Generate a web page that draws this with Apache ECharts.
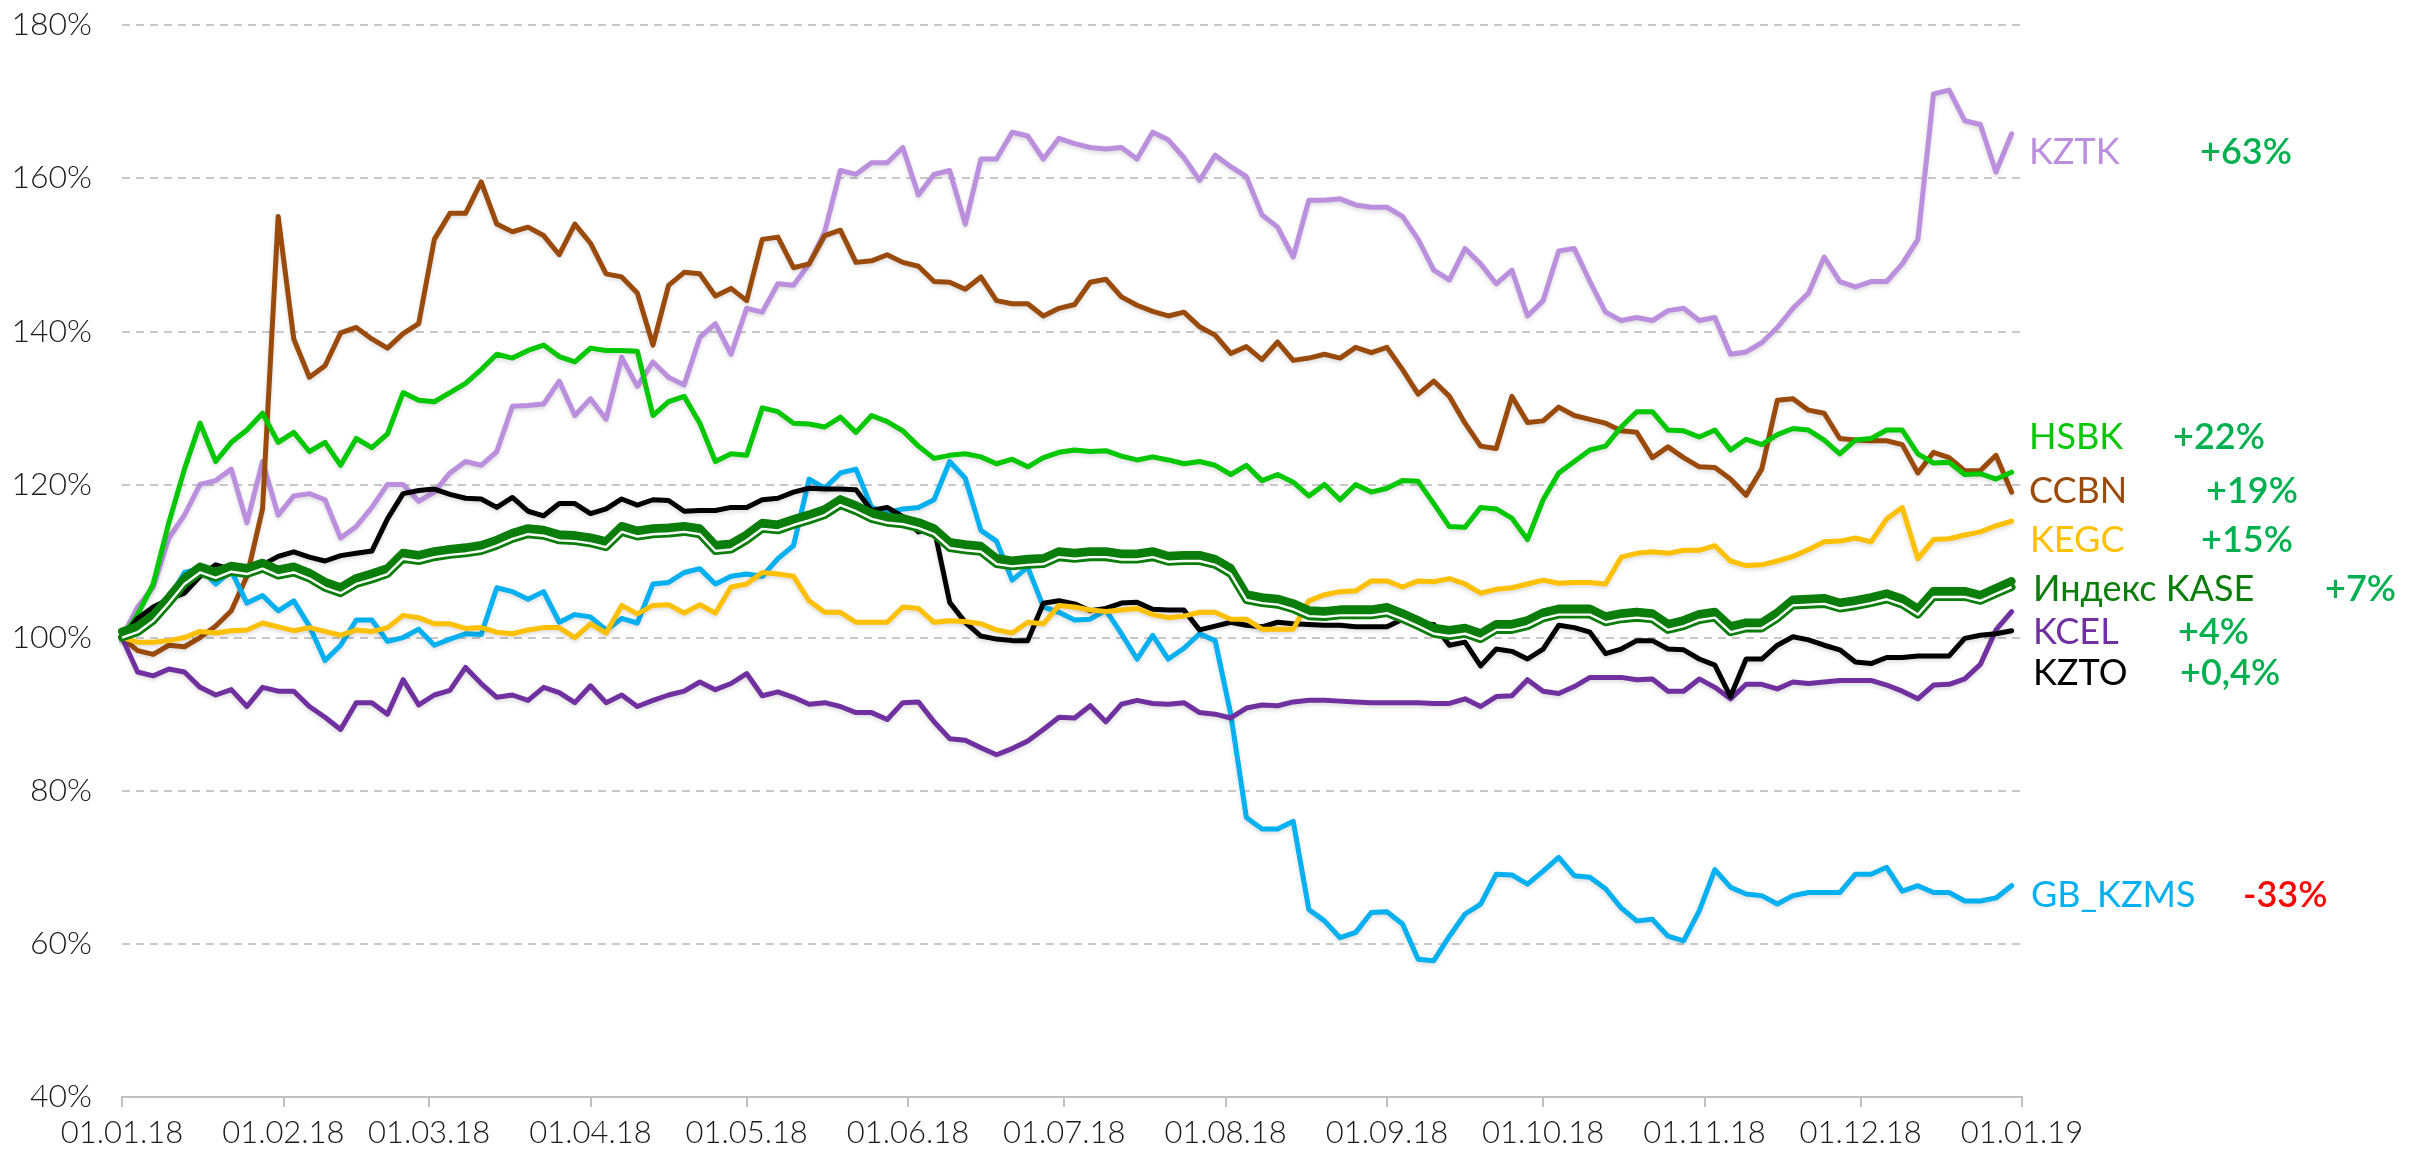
<!DOCTYPE html>
<html>
<head>
<meta charset="utf-8">
<title>KASE 2018</title>
<script src="https://cdn.jsdelivr.net/npm/echarts@6/dist/echarts.min.js"></script>
<style>
  html, body { margin: 0; padding: 0; background: #fff; }
  #chart { width: 2420px; height: 1155px; }
</style>
</head>
<body>
<div id="chart"></div>
<script>
// sample dates, 2018 (every 3rd calendar day)
var dates = [
  '01-01','01-04','01-07','01-10','01-13','01-16','01-19','01-22','01-25','01-28','01-31',
  '02-03','02-06','02-09','02-12','02-15','02-18','02-21','02-24','02-27',
  '03-02','03-05','03-08','03-11','03-14','03-17','03-20','03-23','03-26','03-29',
  '04-01','04-04','04-07','04-10','04-13','04-16','04-19','04-22','04-25','04-28',
  '05-01','05-04','05-07','05-10','05-13','05-16','05-19','05-22','05-25','05-28','05-31',
  '06-03','06-06','06-09','06-12','06-15','06-18','06-21','06-24','06-27','06-30',
  '07-03','07-06','07-09','07-12','07-15','07-18','07-21','07-24','07-27','07-30',
  '08-02','08-05','08-08','08-11','08-14','08-17','08-20','08-23','08-26','08-29',
  '09-01','09-04','09-07','09-10','09-13','09-16','09-19','09-22','09-25','09-28',
  '10-01','10-04','10-07','10-10','10-13','10-16','10-19','10-22','10-25','10-28','10-31',
  '11-03','11-06','11-09','11-12','11-15','11-18','11-21','11-24','11-27','11-30',
  '12-03','12-06','12-09','12-12','12-15','12-18','12-21','12-24','12-27','12-30'
];

var tickDates = ['2018-01-01','2018-02-01','2018-03-01','2018-04-01','2018-05-01','2018-06-01','2018-07-01',
  '2018-08-01','2018-09-01','2018-10-01','2018-11-01','2018-12-01','2019-01-01'];
var tickLabels = ['01.01.18','01.02.18','01.03.18','01.04.18','01.05.18','01.06.18','01.07.18',
  '01.08.18','01.09.18','01.10.18','01.11.18','01.12.18','01.01.19'];

// values, % of 01.01.18
var kztk = [
  100,104,106.6,113,116,120,120.5,122,115,123,116,
  118.5,118.8,118,113,114.5,117,120,120,117.8,
  119,121.5,123,122.5,124.3,130.2,130.3,130.5,133.5,129,
  131.2,128.5,136.6,132.8,136,134,133,139.2,141,137,
  143,142.5,146.2,146,148.8,153,161,160.5,162,162,164,
  157.8,160.5,161,154,162.5,162.5,166,165.5,162.5,165.2,
  164.5,164,163.8,164,162.5,166,165,162.7,159.7,163,
  161.5,160.2,155.2,153.6,149.7,157.1,157.1,157.3,156.5,156.2,
  156.2,155,152,148,146.7,150.8,148.8,146.2,148,142,
  144,150.5,150.8,146.5,142.5,141.4,141.8,141.4,142.7,143,141.4,
  141.8,137,137.3,138.5,140.5,143,145,149.7,146.5,145.8,
  146.5,146.5,148.8,152,171,171.5,167.5,167,160.8,165.8
];
var ccbn = [
  100,98.3,97.8,99,98.8,100,101.5,103.5,108,116.8,155,
  139,134,135.5,139.8,140.5,139,137.8,139.7,141,
  152,155.4,155.4,159.5,154,153,153.6,152.5,150,154,
  151.5,147.5,147.1,145,138.2,146,147.7,147.5,144.6,145.6,
  144,152,152.3,148.3,148.8,152.5,153.2,149,149.2,150,149,
  148.5,146.5,146.4,145.5,147.1,144,143.6,143.6,142,143,
  143.5,146.4,146.8,144.5,143.4,142.6,142,142.5,140.6,139.5,
  137.1,138,136.3,138.6,136.2,136.5,137,136.5,137.9,137.2,
  137.9,135,131.8,133.5,131.5,128,125,124.7,131.5,128.1,
  128.3,130.1,129,128.5,128,127,126.8,123.5,124.9,123.5,122.3,
  122.2,120.7,118.6,122,131,131.2,129.7,129.3,126,125.8,
  125.7,125.7,125.2,121.5,124.2,123.5,121.8,121.8,123.8,119
];
var hsbk = [
  100,103,107,115,122,128,123,125.5,127.1,129.3,125.5,
  126.8,124.3,125.5,122.5,126,124.8,126.6,132,131,
  130.8,132,133.2,135,137,136.5,137.5,138.2,136.7,136,
  137.8,137.5,137.5,137.4,129,130.8,131.5,128,123,124,
  123.8,130,129.5,128,127.9,127.5,128.8,126.8,129,128.2,127,
  125,123.4,123.8,124,123.6,122.7,123.3,122.3,123.5,124.2,
  124.5,124.3,124.4,123.7,123.2,123.6,123.2,122.7,123,122.5,
  121.3,122.5,120.5,121.3,120.3,118.5,120,118,120,119,
  119.5,120.5,120.4,117.5,114.5,114.4,117,116.8,115.6,112.8,
  118,121.5,123,124.5,125,127.5,129.5,129.5,127.1,127,126.2,
  127.1,124.5,125.9,125.2,126.5,127.3,127.1,125.8,124,125.8,
  126,127.1,127.1,124,122.8,122.9,121.3,121.4,120.7,121.6
];
var kegc = [
  100,99.4,99.4,99.6,100,100.8,100.6,100.9,101,101.9,101.4,
  100.9,101.3,100.8,100.3,101,100.8,101.3,102.9,102.6,
  101.8,101.8,101.2,101.3,100.7,100.5,101,101.3,101.3,100,
  101.8,100.6,104.2,103.1,104.2,104.3,103.2,104.3,103.2,106.6,
  107,108.5,108.3,108,104.8,103.3,103.3,102,102,102,104,
  103.8,102,102.2,102.1,101.8,101,100.6,102,101.8,104.2,
  104,103.6,103.4,103.6,103.8,103,102.6,102.8,103.3,103.3,
  102.4,102.4,101.1,101.1,101.1,104.8,105.6,106,106.1,107.4,
  107.4,106.6,107.4,107.3,107.7,107,105.8,106.3,106.5,107,
  107.5,107.1,107.2,107.2,107,110.5,111,111.2,111,111.4,111.4,
  112,110,109.4,109.5,110,110.6,111.5,112.5,112.6,113,
  112.5,115.5,117,110.3,112.8,112.9,113.4,113.8,114.6,115.2
];
var kase = [
  100,100.7,102.2,104.5,107,108.5,107.8,108.6,108.3,109,108.1,
  108.5,107.7,106.5,105.8,107,107.6,108.3,110.3,110,
  110.5,110.8,111,111.3,112,112.9,113.5,113.3,112.7,112.6,
  112.3,111.8,113.8,113.2,113.5,113.6,113.8,113.5,111.3,111.5,
  112.7,114.2,114,114.7,115.3,116,117.3,116.5,115.5,115,114.8,
  114.3,113.5,111.7,111.4,111.2,109.6,109.3,109.5,109.6,110.5,
  110.3,110.5,110.5,110.2,110.2,110.5,109.9,110,110,109.5,
  108.3,104.9,104.5,104.3,103.7,102.8,102.7,102.9,102.9,102.9,
  103.2,102.4,101.5,100.5,100.2,100.5,99.8,101,101,101.5,
  102.5,103,103,103,102,102.4,102.6,102.4,101,101.5,102.3,
  102.6,100.7,101.2,101.2,102.5,104.2,104.3,104.4,103.8,104.1,
  104.5,105,104.3,103,105.3,105.3,105.3,104.8,105.7,106.6
];
var kcel = [
  100,95.5,95,95.9,95.5,93.5,92.5,93.2,91,93.5,93,
  93,91,89.6,88,91.5,91.5,90,94.5,91.2,
  92.5,93.1,96.1,94,92.2,92.5,91.8,93.5,92.8,91.5,
  93.7,91.5,92.5,91,91.8,92.5,93,94.2,93.2,94,
  95.3,92.4,92.9,92.2,91.3,91.5,91,90.2,90.2,89.3,91.5,
  91.6,89,86.8,86.6,85.6,84.7,85.5,86.5,88,89.6,
  89.5,91.1,89,91.3,91.8,91.4,91.3,91.5,90.2,90,
  89.5,90.8,91.2,91.1,91.6,91.8,91.8,91.7,91.6,91.5,
  91.5,91.5,91.5,91.4,91.4,92,91,92.3,92.4,94.5,
  93,92.7,93.6,94.8,94.8,94.8,94.5,94.6,93,93,94.6,
  93.5,92,93.9,93.9,93.3,94.2,94,94.2,94.4,94.4,
  94.4,93.8,93,92,93.8,93.9,94.6,96.5,101,103.4
];
var kzto = [
  100,102.5,104,105,105.8,108,109.5,108.9,108.2,109.5,110.6,
  111.2,110.5,110,110.7,111,111.3,115.5,118.8,119.2,
  119.4,118.7,118.2,118.1,117,118.3,116.5,115.9,117.5,117.5,
  116.2,116.8,118.1,117.3,118,117.9,116.5,116.6,116.6,117,
  117,118,118.2,119,119.5,119.4,119.4,119.3,116.6,117,115.8,
  113.8,114.3,104.6,102,100.2,99.8,99.6,99.6,104.5,104.8,
  104.4,103.5,103.8,104.5,104.6,103.7,103.6,103.6,101,101.5,
  102,101.6,101.4,102,101.8,101.7,101.6,101.6,101.4,101.4,
  101.4,102.4,101.8,101.7,99,99.4,96.3,98.5,98.2,97.2,
  98.5,101.6,101.3,100.7,97.9,98.5,99.6,99.6,98.5,98.4,97.2,
  96.4,92.3,97.2,97.2,99,100.1,99.7,99,98.4,96.8,
  96.6,97.4,97.4,97.6,97.6,97.6,99.9,100.3,100.5,100.9
];
var gbkzms = [
  100,101.3,103.1,105,108.5,109,107,108.7,104.5,105.5,103.5,
  104.8,101.5,97,99,102.3,102.3,99.5,100,101.1,
  99,99.8,100.5,100.4,106.5,106,105,106,102,103,
  102.7,101,102.5,101.9,107,107.2,108.5,109,107,108,
  108.3,108,110.3,112,120.7,119.5,121.5,122,117,116.3,116.8,
  117,118,123,120.8,114,112.6,107.5,109.2,104,103.3,
  102.3,102.4,103.6,100.5,97.2,100.3,97.2,98.6,100.5,99.6,
  90,76.5,75,75,76,64.5,63,60.8,61.5,64.1,
  64.2,62.6,58,57.8,61,63.9,65.2,69.1,69,67.8,
  69.5,71.3,68.9,68.7,67.2,64.7,63,63.2,61,60.4,64.3,
  69.7,67.4,66.5,66.3,65.2,66.3,66.7,66.7,66.7,69.1,
  69.1,70,66.9,67.6,66.7,66.7,65.6,65.6,66,67.6
];

// right-hand labels
var labelNames = ['KZTK', 'HSBK', 'CCBN', 'KEGC', 'Индекс KASE', 'KCEL', 'KZTO', 'GB_KZMS'];
var labelColors = ['#bb8fdd', '#00c800', '#9a4a0a', '#ffc000', '#0a7d0a', '#7030a0', '#000000', '#00b0f0'];
var changeTexts = ['+63%', '+22%', '+19%', '+15%', '+7%', '+4%', '+0,4%', '-33%'];
var changeColors = ['#00b050', '#00b050', '#00b050', '#00b050', '#00b050', '#00b050', '#00b050', '#ff0000'];
var labelX = [2029, 2029, 2029, 2030, 2033, 2033, 2033, 2031];
var labelY = [152, 437, 491, 540, 589, 632, 673, 895];
var changeX = [2200, 2173, 2206, 2201, 2325, 2178, 2180, 2243];

// x is measured in days since 01.01.18
function dayOf(s) {
  var p = s.split('-');
  return Math.round((Date.UTC(+p[0], +p[1] - 1, +p[2]) - Date.UTC(2018, 0, 1)) / 86400000);
}
var xs = dates.map(function (d) { return dayOf('2018-' + d); });
var tickDays = tickDates.map(dayOf);
function toPairs(vals) {
  return vals.map(function (v, i) { return [xs[i], v]; });
}

var chart = echarts.init(document.getElementById('chart'));

var plain = [
  { name: 'KZTK', data: kztk, color: '#bb8fdd' },
  { name: 'CCBN', data: ccbn, color: '#9a4a0a' },
  { name: 'HSBK', data: hsbk, color: '#00c800' },
  { name: 'GB_KZMS', data: gbkzms, color: '#00b0f0' },
  { name: 'KCEL', data: kcel, color: '#7030a0' },
  { name: 'KZTO', data: kzto, color: '#000000' },
  { name: 'KEGC', data: kegc, color: '#ffc000' }
];

var series = plain.map(function (s, i) {
  return {
    name: s.name,
    type: 'line',
    data: toPairs(s.data),
    showSymbol: false,
    symbol: 'none',
    silent: true,
    z: 2 + i,
    lineStyle: {
      width: 5,
      color: s.color,
      join: 'round',
      cap: 'round',
      shadowColor: 'rgba(0,0,0,0.15)',
      shadowBlur: 4,
      shadowOffsetY: 2
    }
  };
});

// index line drawn as a band: thick green (second grid, 6px higher), base green, white stripe
var kaseGreen = '#0a7d0a';
series.push({
  name: 'Индекс KASE (верх)',
  type: 'line',
  xAxisIndex: 1,
  yAxisIndex: 1,
  data: toPairs(kase),
  showSymbol: false,
  symbol: 'none',
  silent: true,
  z: 20,
  lineStyle: { width: 8, color: kaseGreen, join: 'round', cap: 'round' }
});
series.push({
  name: 'Индекс KASE',
  type: 'line',
  data: toPairs(kase),
  showSymbol: false,
  symbol: 'none',
  silent: true,
  z: 21,
  lineStyle: { width: 8, color: kaseGreen, join: 'round', cap: 'round' }
});
series.push({
  name: 'Индекс KASE (линия)',
  type: 'line',
  data: toPairs(kase),
  showSymbol: false,
  symbol: 'none',
  silent: true,
  z: 22,
  lineStyle: { width: 2.4, color: '#ffffff', join: 'round' }
});

var graphics = [];
labelNames.forEach(function (n, i) {
  graphics.push({
    type: 'text', x: labelX[i], y: labelY[i], silent: true,
    style: {
      text: n, fill: labelColors[i], fontSize: 36, fontFamily: 'Lato',
      verticalAlign: 'middle', textVerticalAlign: 'middle'
    }
  });
  graphics.push({
    type: 'text', x: changeX[i], y: labelY[i], silent: true,
    style: {
      text: changeTexts[i], fill: changeColors[i], fontSize: 36, fontFamily: 'Lato', fontWeight: 600,
      verticalAlign: 'middle', textVerticalAlign: 'middle'
    }
  });
});

chart.setOption({
  animation: false,
  backgroundColor: '#ffffff',
  grid: [
    { left: 122, right: 398, top: 25, bottom: 58, containLabel: false, outerBoundsMode: 'none' },
    { left: 122, right: 398, top: 19, bottom: 64, containLabel: false, outerBoundsMode: 'none' }
  ],
  xAxis: [{
    type: 'value',
    min: tickDays[0],
    max: tickDays[tickDays.length - 1],
    axisLine: { show: true, lineStyle: { color: '#c0c0c0', width: 2 } },
    axisTick: { show: true, customValues: tickDays, length: 10, lineStyle: { color: '#c0c0c0', width: 2 } },
    splitLine: { show: false },
    axisLabel: {
      customValues: tickDays,
      hideOverlap: false,
      margin: 20,
      color: '#1a1a1a',
      fontSize: 31,
      fontFamily: 'Lato',
      fontWeight: 300,
      formatter: function (v) {
        var i = tickDays.indexOf(Math.round(v));
        return i >= 0 ? tickLabels[i] : '';
      }
    }
  }, {
    type: 'value',
    gridIndex: 1,
    min: tickDays[0],
    max: tickDays[tickDays.length - 1],
    show: false
  }],
  yAxis: [{
    type: 'value',
    min: 40,
    max: 180,
    interval: 20,
    axisLine: { show: false },
    axisTick: { show: false },
    splitLine: { show: true, lineStyle: { type: [8, 6], color: '#c8c8c8', width: 2 } },
    axisLabel: {
      formatter: '{value}%',
      margin: 30,
      color: '#1a1a1a',
      fontSize: 32,
      fontFamily: 'Lato',
      fontWeight: 300
    }
  }, {
    type: 'value',
    gridIndex: 1,
    min: 40,
    max: 180,
    interval: 20,
    show: false,
    splitLine: { show: false }
  }],
  series: series,
  graphic: graphics
});
</script>
</body>
</html>
